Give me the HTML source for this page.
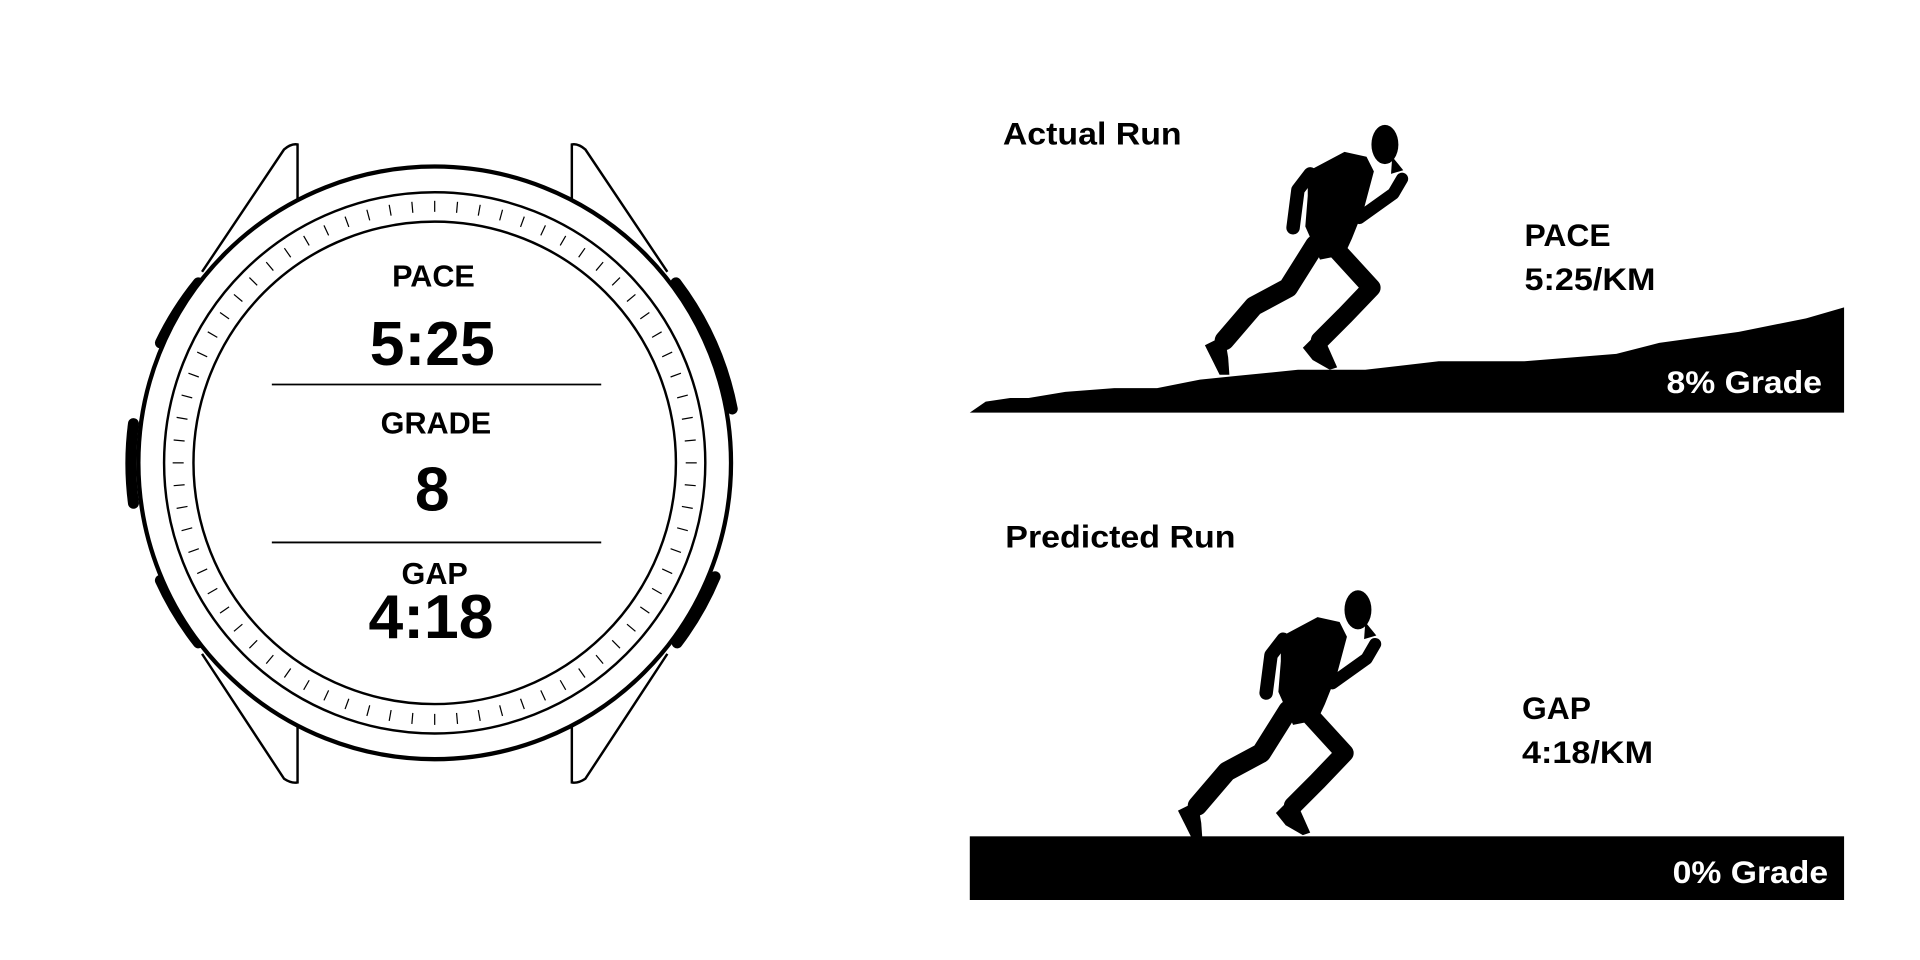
<!DOCTYPE html>
<html><head><meta charset="utf-8"><style>html,body{margin:0;padding:0;background:#fff;}svg{display:block}</style></head>
<body>
<svg width="1920" height="960" viewBox="0 0 1568 784" xmlns="http://www.w3.org/2000/svg" font-family="'Liberation Sans', sans-serif" font-weight="bold">
<rect width="1568" height="784" fill="#fff"/>
<g fill="none" stroke="#000" stroke-width="2">
<path d="M165,222 L232,122 Q238,117 243,118 L243,168"/>
<path d="M165,534 L232,636 Q238,640 243,639 L243,588"/>
<path d="M545,222 L478,122 Q472,117 467,118 L467,168"/>
<path d="M545,534 L478,636 Q472,640 467,639 L467,588"/>
</g>
<!-- buttons -->
<g fill="none" stroke="#000" stroke-width="9" stroke-linecap="round">
<path d="M131,280 A248,248 0 0 1 162,231"/>
<path d="M109,346 A250,250 0 0 0 109,411"/>
<path d="M131,474 A248,248 0 0 0 162,525"/>
<path d="M552,231 A250,250 0 0 1 598,334"/>
<path d="M584,471 A250,250 0 0 1 553,525"/>
</g>
<circle cx="355" cy="378" r="242" fill="#fff" stroke="#000" stroke-width="3.5"/>
<circle cx="355" cy="378" r="221" fill="none" stroke="#000" stroke-width="2"/>
<circle cx="355" cy="378" r="197" fill="none" stroke="#000" stroke-width="2"/>
<g stroke="#000" stroke-width="1" transform="translate(355,378)">
<line x1="0" y1="-205" x2="0" y2="-214" transform="rotate(0)"/><line x1="0" y1="-205" x2="0" y2="-214" transform="rotate(5)"/><line x1="0" y1="-205" x2="0" y2="-214" transform="rotate(10)"/><line x1="0" y1="-205" x2="0" y2="-214" transform="rotate(15)"/><line x1="0" y1="-205" x2="0" y2="-214" transform="rotate(20)"/><line x1="0" y1="-205" x2="0" y2="-214" transform="rotate(25)"/><line x1="0" y1="-205" x2="0" y2="-214" transform="rotate(30)"/><line x1="0" y1="-205" x2="0" y2="-214" transform="rotate(35)"/><line x1="0" y1="-205" x2="0" y2="-214" transform="rotate(40)"/><line x1="0" y1="-205" x2="0" y2="-214" transform="rotate(45)"/><line x1="0" y1="-205" x2="0" y2="-214" transform="rotate(50)"/><line x1="0" y1="-205" x2="0" y2="-214" transform="rotate(55)"/><line x1="0" y1="-205" x2="0" y2="-214" transform="rotate(60)"/><line x1="0" y1="-205" x2="0" y2="-214" transform="rotate(65)"/><line x1="0" y1="-205" x2="0" y2="-214" transform="rotate(70)"/><line x1="0" y1="-205" x2="0" y2="-214" transform="rotate(75)"/><line x1="0" y1="-205" x2="0" y2="-214" transform="rotate(80)"/><line x1="0" y1="-205" x2="0" y2="-214" transform="rotate(85)"/><line x1="0" y1="-205" x2="0" y2="-214" transform="rotate(90)"/><line x1="0" y1="-205" x2="0" y2="-214" transform="rotate(95)"/><line x1="0" y1="-205" x2="0" y2="-214" transform="rotate(100)"/><line x1="0" y1="-205" x2="0" y2="-214" transform="rotate(105)"/><line x1="0" y1="-205" x2="0" y2="-214" transform="rotate(110)"/><line x1="0" y1="-205" x2="0" y2="-214" transform="rotate(115)"/><line x1="0" y1="-205" x2="0" y2="-214" transform="rotate(120)"/><line x1="0" y1="-205" x2="0" y2="-214" transform="rotate(125)"/><line x1="0" y1="-205" x2="0" y2="-214" transform="rotate(130)"/><line x1="0" y1="-205" x2="0" y2="-214" transform="rotate(135)"/><line x1="0" y1="-205" x2="0" y2="-214" transform="rotate(140)"/><line x1="0" y1="-205" x2="0" y2="-214" transform="rotate(145)"/><line x1="0" y1="-205" x2="0" y2="-214" transform="rotate(150)"/><line x1="0" y1="-205" x2="0" y2="-214" transform="rotate(155)"/><line x1="0" y1="-205" x2="0" y2="-214" transform="rotate(160)"/><line x1="0" y1="-205" x2="0" y2="-214" transform="rotate(165)"/><line x1="0" y1="-205" x2="0" y2="-214" transform="rotate(170)"/><line x1="0" y1="-205" x2="0" y2="-214" transform="rotate(175)"/><line x1="0" y1="-205" x2="0" y2="-214" transform="rotate(180)"/><line x1="0" y1="-205" x2="0" y2="-214" transform="rotate(185)"/><line x1="0" y1="-205" x2="0" y2="-214" transform="rotate(190)"/><line x1="0" y1="-205" x2="0" y2="-214" transform="rotate(195)"/><line x1="0" y1="-205" x2="0" y2="-214" transform="rotate(200)"/><line x1="0" y1="-205" x2="0" y2="-214" transform="rotate(205)"/><line x1="0" y1="-205" x2="0" y2="-214" transform="rotate(210)"/><line x1="0" y1="-205" x2="0" y2="-214" transform="rotate(215)"/><line x1="0" y1="-205" x2="0" y2="-214" transform="rotate(220)"/><line x1="0" y1="-205" x2="0" y2="-214" transform="rotate(225)"/><line x1="0" y1="-205" x2="0" y2="-214" transform="rotate(230)"/><line x1="0" y1="-205" x2="0" y2="-214" transform="rotate(235)"/><line x1="0" y1="-205" x2="0" y2="-214" transform="rotate(240)"/><line x1="0" y1="-205" x2="0" y2="-214" transform="rotate(245)"/><line x1="0" y1="-205" x2="0" y2="-214" transform="rotate(250)"/><line x1="0" y1="-205" x2="0" y2="-214" transform="rotate(255)"/><line x1="0" y1="-205" x2="0" y2="-214" transform="rotate(260)"/><line x1="0" y1="-205" x2="0" y2="-214" transform="rotate(265)"/><line x1="0" y1="-205" x2="0" y2="-214" transform="rotate(270)"/><line x1="0" y1="-205" x2="0" y2="-214" transform="rotate(275)"/><line x1="0" y1="-205" x2="0" y2="-214" transform="rotate(280)"/><line x1="0" y1="-205" x2="0" y2="-214" transform="rotate(285)"/><line x1="0" y1="-205" x2="0" y2="-214" transform="rotate(290)"/><line x1="0" y1="-205" x2="0" y2="-214" transform="rotate(295)"/><line x1="0" y1="-205" x2="0" y2="-214" transform="rotate(300)"/><line x1="0" y1="-205" x2="0" y2="-214" transform="rotate(305)"/><line x1="0" y1="-205" x2="0" y2="-214" transform="rotate(310)"/><line x1="0" y1="-205" x2="0" y2="-214" transform="rotate(315)"/><line x1="0" y1="-205" x2="0" y2="-214" transform="rotate(320)"/><line x1="0" y1="-205" x2="0" y2="-214" transform="rotate(325)"/><line x1="0" y1="-205" x2="0" y2="-214" transform="rotate(330)"/><line x1="0" y1="-205" x2="0" y2="-214" transform="rotate(335)"/><line x1="0" y1="-205" x2="0" y2="-214" transform="rotate(340)"/><line x1="0" y1="-205" x2="0" y2="-214" transform="rotate(345)"/><line x1="0" y1="-205" x2="0" y2="-214" transform="rotate(350)"/><line x1="0" y1="-205" x2="0" y2="-214" transform="rotate(355)"/>
</g>
<g text-anchor="middle" fill="#000">
<text x="354" y="234" font-size="25">PACE</text>
<text x="353" y="298" font-size="51">5:25</text>
<line x1="222" y1="314" x2="491" y2="314" stroke="#000" stroke-width="1.5"/>
<text x="356" y="354" font-size="25">GRADE</text>
<text x="353" y="417" font-size="51">8</text>
<line x1="222" y1="443" x2="491" y2="443" stroke="#000" stroke-width="1.5"/>
<text x="355" y="477" font-size="25">GAP</text>
<text x="352" y="521" font-size="51">4:18</text>
</g>
<g fill="#000" font-size="26">
<text x="819" y="118" textLength="146" lengthAdjust="spacingAndGlyphs">Actual Run</text>
<text x="1245" y="201">PACE</text>
<text x="1245" y="237" textLength="107" lengthAdjust="spacingAndGlyphs">5:25/KM</text>
<text x="821" y="447" textLength="188" lengthAdjust="spacingAndGlyphs">Predicted Run</text>
<text x="1243" y="587">GAP</text>
<text x="1243" y="623" textLength="107" lengthAdjust="spacingAndGlyphs">4:18/KM</text>
</g>
<polygon fill="#000" points="792,337 805,328 825,325 840,325 870,320 910,317 945,317 980,310 1010,307 1060,302 1115,302 1175,295 1245,295 1320,289 1355,280 1420,271 1475,260 1506,251 1506,337"/>
<text x="1488" y="321" fill="#fff" font-size="26" text-anchor="end" textLength="127" lengthAdjust="spacingAndGlyphs">8% Grade</text>
<rect x="792" y="683" width="714" height="52" fill="#000"/>
<text x="1493" y="721" fill="#fff" font-size="26" text-anchor="end" textLength="127" lengthAdjust="spacingAndGlyphs">0% Grade</text>
<defs>
<g id="runner">
<ellipse cx="1131" cy="118" rx="11" ry="16" fill="#000"/>
<path d="M1137,128 L1146,139 L1136,142 Z" fill="#000"/>
<polygon fill="#000" points="1068,140 1098,124 1116,128 1122,140 1114,170 1104,195 1098,208 1078,212 1066,185 1068,160"/>
<path d="M1070,142 L1060,155 L1056,186" stroke="#000" stroke-width="11" stroke-linecap="round" stroke-linejoin="round" fill="none"/>
<path d="M1108,156 L1110,178 L1138,158 L1145,146" stroke="#000" stroke-width="10" stroke-linecap="round" stroke-linejoin="round" fill="none"/>
<path d="M1074,200 L1052,235 L1024,250 L1000,278" stroke="#000" stroke-width="16" stroke-linecap="round" stroke-linejoin="round" fill="none"/>
<polygon fill="#000" points="984,282 1000,274 1003,292 1004,306 996,306 990,294"/>
<path d="M1088,200 L1120,235 L1098,258 L1078,278" stroke="#000" stroke-width="15" stroke-linecap="round" stroke-linejoin="round" fill="none"/>
<polygon fill="#000" points="1064,284 1076,272 1084,282 1092,300 1086,302 1072,294"/>
</g>
</defs>
<use href="#runner"/>
<use href="#runner" transform="translate(-22,380)"/>
</svg>
</body></html>
